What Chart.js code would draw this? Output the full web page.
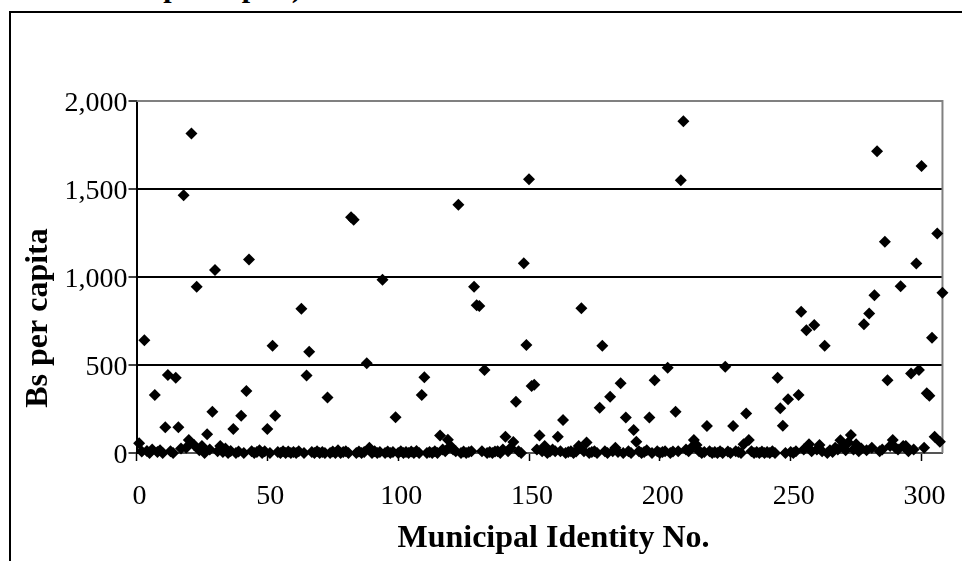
<!DOCTYPE html>
<html>
<head>
<meta charset="utf-8">
<script src="https://cdn.jsdelivr.net/npm/chart.js@4/dist/chart.umd.min.js"></script>
<style>
  html, body { margin: 0; padding: 0; background: #fff; overflow: hidden; }
  body { width: 962px; height: 561px; position: relative; }
  #frame {
    position: absolute; left: 9px; top: 11px; width: 1000px; height: 600px;
    border: 2px solid #000;
  }
  #heading {
    position: absolute; left: 33px; top: -28px; white-space: nowrap;
    font: bold 30px/30px "Liberation Serif", "Times New Roman", serif; color: #000;
  }
  #wrap { position: absolute; left: 0; top: 0; width: 962px; height: 561px; }
</style>
</head>
<body>
<div id="frame"></div>
<div id="heading">Transfers per capita)</div>
<div id="wrap"><canvas id="chart"></canvas></div>
<script>
  // Bs per capita for municipalities 1..309
  const perCapita = [
    55, 8, 640, 12, 0, 20, 330, 5, 15, 0,            // 1-10
    146, 443, 10, 0, 428, 146, 25, 1465, 30, 74,     // 11-20
    1815, 45, 944, 15, 40, 0, 106, 20, 235, 1040,    // 21-30
    10, 40, 5, 25, 0, 12, 136, 0, 8, 212,            // 31-40
    0, 352, 1100, 10, 0, 5, 15, 0, 10, 136,          // 41-50
    0, 610, 212, 5, 0, 10, 0, 8, 0, 5,               // 51-60
    0, 10, 820, 0, 440, 575, 5, 0, 10, 0,            // 61-70
    5, 0, 315, 0, 8, 0, 15, 0, 5, 10,                // 71-80
    0, 1340, 1325, 0, 8, 0, 5, 510, 30, 0,           // 81-90
    10, 0, 5, 985, 0, 8, 0, 5, 203, 0,               // 91-100
    10, 0, 5, 0, 8, 0, 12, 0, 330, 430,              // 101-110
    0, 5, 0, 10, 0, 100, 20, 10, 75, 40,             // 111-120
    20, 10, 1410, 0, 8, 0, 5, 10, 944, 840,          // 121-130
    835, 10, 471, 0, 5, 0, 8, 10, 0, 20,             // 131-140
    93, 10, 30, 62, 291, 10, 0, 1078, 613, 1555,     // 141-150
    380, 388, 20, 100, 10, 40, 0, 8, 20, 10,         // 151-160
    93, 10, 187, 0, 5, 10, 0, 8, 40, 822,            // 161-170
    10, 60, 0, 5, 10, 0, 257, 609, 10, 0,            // 171-180
    320, 10, 30, 5, 396, 0, 201, 10, 0, 131,         // 181-190
    64, 10, 0, 5, 15, 201, 0, 414, 10, 0,            // 191-200
    5, 10, 484, 0, 8, 235, 10, 1550, 1885, 20,       // 201-210
    10, 30, 74, 45, 10, 0, 5, 153, 10, 0,            // 211-220
    5, 0, 10, 0, 490, 8, 0, 153, 10, 5,              // 221-230
    0, 50, 225, 74, 10, 0, 5, 0, 8, 0,               // 231-240
    5, 0, 10, 0, 428, 254, 155, 0, 306, 5,           // 241-250
    0, 10, 329, 802, 20, 698, 50, 10, 727, 20,       // 251-260
    45, 10, 609, 0, 15, 5, 30, 20, 72, 40,           // 261-270
    15, 60, 102, 20, 50, 10, 25, 731, 15, 793,       // 271-280
    30, 897, 1715, 10, 20, 1200, 414, 40, 74, 30,    // 281-290
    20, 948, 40, 40, 10, 452, 20, 1077, 471, 1630,   // 291-300
    30, 339, 325, 655, 93, 1247, 64, 910, 5          // 301-309
  ];
  const municipalIds = perCapita.map((_, i) => i + 1);

  const xTicks = [0, 50, 100, 150, 200, 250, 300];
  const yTicks = [0, 500, 1000, 1500, 2000];

  const xTitle = 'Municipal Identity No.';
  const yTitle = 'Bs per capita';

  const serif = '"Liberation Serif", "Times New Roman", serif';

  // grey plot-area border (top and right) plus the two axis titles
  const frameAndTitles = {
    id: 'frameAndTitles',
    beforeDatasetsDraw(chart) {
      const { ctx, chartArea: a } = chart;
      ctx.save();
      ctx.strokeStyle = '#808080';
      ctx.lineWidth = 2;
      ctx.beginPath();
      ctx.moveTo(a.left, a.top);
      ctx.lineTo(a.right, a.top);
      ctx.lineTo(a.right, a.bottom);
      ctx.stroke();
      ctx.restore();
    },
    afterDraw(chart) {
      const { ctx, chartArea: a } = chart;
      ctx.save();
      ctx.fillStyle = '#000';
      ctx.font = 'bold 32px ' + serif;
      ctx.textAlign = 'center';
      ctx.textBaseline = 'middle';
      ctx.fillText(xTitle, (a.left + a.right) / 2 + 14, a.bottom + 86);
      ctx.translate(39, a.bottom - 135);
      ctx.rotate(-Math.PI / 2);
      ctx.fillText(yTitle, 0, 0);
      ctx.restore();
    }
  };

  new Chart(document.getElementById('chart'), {
    type: 'scatter',
    data: {
      datasets: [{
        data: municipalIds.map((id, i) => ({ x: id, y: perCapita[i] })),
        pointStyle: 'rectRot',
        pointRadius: 6,
        pointHoverRadius: 6,
        pointBorderWidth: 0,
        backgroundColor: '#000',
        borderColor: '#000',
        clip: false
      }]
    },
    options: {
      responsive: true,
      maintainAspectRatio: false,
      animation: false,
      layout: { padding: { top: 101, right: 18, left: 0, bottom: 0 } },
      plugins: {
        legend: { display: false },
        tooltip: { enabled: false }
      },
      scales: {
        x: {
          type: 'linear',
          min: 0,
          max: 308,
          afterFit: s => { s.height = 108; },
          afterBuildTicks: s => { s.ticks = xTicks.map(v => ({ value: v })); },
          ticks: {
            font: { family: serif, size: 28 },
            color: '#000',
            padding: 19,
            labelOffset: 3,
            maxRotation: 0
          },
          grid: {
            drawOnChartArea: false,
            drawTicks: true,
            tickLength: 8,
            tickColor: '#000',
            tickWidth: 1.5
          },
          border: { color: '#555', width: 2 }
        },
        y: {
          min: 0,
          max: 2000,
          afterFit: s => { s.width = 136.5; },
          afterBuildTicks: s => { s.ticks = yTicks.map(v => ({ value: v })); },
          ticks: {
            font: { family: serif, size: 28 },
            color: '#000',
            padding: 1,
            labelOffset: 3,
            callback: v => v.toLocaleString('en-US')
          },
          grid: {
            color: c => c.tick && c.tick.value === 2000 ? '#808080'
                      : (c.tick && c.tick.value === 0 ? 'rgba(0,0,0,0)' : '#000'),
            lineWidth: 2,
            drawTicks: true,
            tickLength: 8,
            tickColor: '#000',
            tickWidth: 1.5
          },
          border: { color: '#000', width: 2 }
        }
      }
    },
    plugins: [frameAndTitles]
  });
</script>
</body>
</html>
